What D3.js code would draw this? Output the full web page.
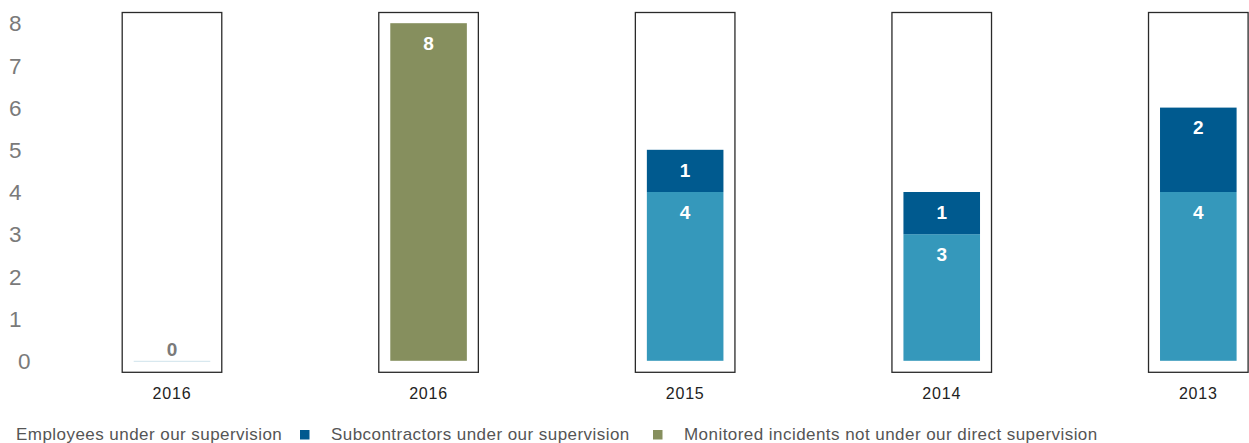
<!DOCTYPE html>
<html>
<head>
<meta charset="utf-8">
<script src="https://cdn.jsdelivr.net/npm/d3@7"></script>
<style>
  html, body { margin: 0; padding: 0; background: #fff; }
  svg { display: block; font-family: "Liberation Sans", Arial, Helvetica, sans-serif; }
</style>
</head>
<body>
<svg id="chart" width="1249" height="443"></svg>
<script>
// Incident counts per reporting year
const years = ["2016", "2016", "2015", "2014", "2013"];
const employees = [0, 0, 4, 3, 4];
const subcontractors = [0, 0, 1, 1, 2];
const monitored = [0, 8, 0, 0, 0];
const yTicks = [0, 1, 2, 3, 4, 5, 6, 7, 8];
const seriesNames = [
  "Employees under our supervision",
  "Subcontractors under our supervision",
  "Monitored incidents not under our direct supervision"
];
const seriesColors = ["#3598bb", "#005a8f", "#868f5e"];

const svg = d3.select("#chart");

const x = d3.scaleBand()
  .domain(d3.range(years.length))
  .range([121.7, 1248.6])
  .paddingInner(0.608)
  .paddingOuter(0);

const y = d3.scaleLinear().domain([0, 8]).range([360.8, 23.2]);

// Y axis labels (no axis line)
const yAxis = svg.append("g").attr("class", "y-axis");
yAxis.selectAll("text")
  .data(yTicks)
  .join("text")
  .attr("x", d => d === 0 ? 18 : 9)
  .attr("y", d => y(d))
  .attr("dy", "0.36em")
  .attr("font-size", 22.5)
  .attr("fill", "#7a7a7a")
  .text(d => d);

// Frame around each category
const frames = svg.append("g");
frames.selectAll("rect")
  .data(years)
  .join("rect")
  .attr("x", (d, i) => x(i) + 0.5)
  .attr("y", y(8) - 10.7)
  .attr("width", x.bandwidth() - 1)
  .attr("height", y(0) - y(8) + 22.2)
  .attr("fill", "none")
  .attr("stroke", "#2a2a2a")
  .attr("stroke-width", 1.3);

const inset = 12;
const innerW = x.bandwidth() - 2 * inset;

// Stack the three series for each year
const rows = years.map((yr, i) => ({ i, vals: [employees[i], subcontractors[i], monitored[i]] }));
const segs = [];
rows.forEach(r => {
  let base = 0;
  r.vals.forEach((v, s) => {
    if (v > 0) segs.push({ i: r.i, s, y0: base, y1: base + v, v });
    base += v;
  });
});

const bars = svg.append("g");
bars.selectAll("rect")
  .data(segs)
  .join("rect")
  .attr("x", d => x(d.i) + inset)
  .attr("y", d => y(d.y1))
  .attr("width", innerW)
  .attr("height", d => y(d.y0) - y(d.y1))
  .attr("fill", d => seriesColors[d.s]);

bars.selectAll("text")
  .data(segs)
  .join("text")
  .attr("x", d => x(d.i) + x.bandwidth() / 2)
  .attr("y", d => y(d.y1) + 20)
  .attr("dy", "0.36em")
  .attr("text-anchor", "middle")
  .attr("font-size", 19)
  .attr("font-weight", "bold")
  .attr("fill", "#fff")
  .text(d => d.v);

// Zero-valued year: thin baseline with a grey label
const zeroRows = rows.filter(r => d3.sum(r.vals) === 0);
const zg = svg.append("g");
zg.selectAll("line")
  .data(zeroRows)
  .join("line")
  .attr("x1", d => x(d.i) + inset)
  .attr("x2", d => x(d.i) + inset + innerW)
  .attr("y1", y(0) + 0.5)
  .attr("y2", y(0) + 0.5)
  .attr("stroke", "#cfe3ec")
  .attr("stroke-width", 1);
zg.selectAll("text")
  .data(zeroRows)
  .join("text")
  .attr("x", d => x(d.i) + x.bandwidth() / 2)
  .attr("y", y(0) - 12)
  .attr("dy", "0.36em")
  .attr("text-anchor", "middle")
  .attr("font-size", 19)
  .attr("font-weight", "bold")
  .attr("fill", "#7a7a7a")
  .text(0);

// Year labels
svg.append("g").selectAll("text")
  .data(years)
  .join("text")
  .attr("x", (d, i) => x(i) + x.bandwidth() / 2)
  .attr("y", 399)
  .attr("text-anchor", "middle")
  .attr("font-size", 16)
  .attr("letter-spacing", 0.8)
  .attr("fill", "#222")
  .text(d => d);

// Legend
const legendX = [-15, 300, 653];
const lg = svg.append("g").selectAll("g")
  .data(seriesNames)
  .join("g")
  .attr("transform", (d, i) => `translate(${legendX[i]},440)`);
lg.append("rect")
  .attr("x", 0).attr("y", -10)
  .attr("width", 9.5).attr("height", 9.5)
  .attr("fill", (d, i) => seriesColors[i]);
lg.append("text")
  .attr("x", 31)
  .attr("y", 0)
  .attr("font-size", 17)
  .attr("letter-spacing", 0.45)
  .attr("fill", "#555")
  .text(d => d);
</script>
</body>
</html>
